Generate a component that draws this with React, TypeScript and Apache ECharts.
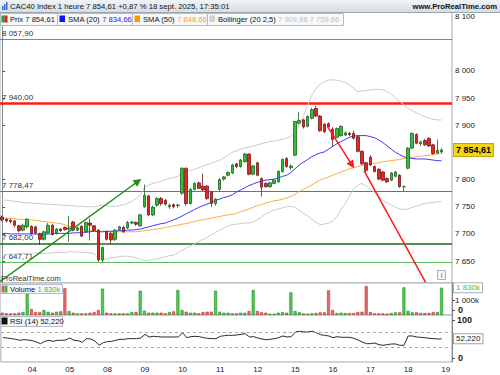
import React, { useEffect, useRef } from 'react';
import * as echarts from 'echarts';

const FONT = "'Liberation Sans', Arial, sans-serif";

// ---------- categories ----------
const DAYS = ['03', '04', '05', '08', '09', '10', '11', '12', '15', '16', '17', '18'];
const FIRST_SESSION_HOURS = ['11', '12', '13', '14', '15', '16', '17'];
const SESSION_HOURS = ['09', '10', '11', '12', '13', '14', '15', '16', '17'];
const NEXT_DAY = '19';
const EMPTY_SLOT_HOURS = ['09', '10'];

// ---------- candles ----------
const OPEN = [
  7731, 7727, 7725, 7724, 7715, 7707, 7713,
  7714, 7713, 7701, 7690, 7702, 7716, 7701, 7709, 7712,
  7709, 7722, 7707, 7714, 7704, 7720, 7715, 7707, 7652,
  7704, 7701, 7690, 7708, 7712, 7711, 7720, 7721, 7715,
  7750, 7770, 7735, 7753, 7765, 7762, 7750, 7754, 7752,
  7775, 7821, 7756, 7782, 7794, 7788, 7788, 7777, 7756,
  7782, 7801, 7808, 7812, 7829, 7824, 7833, 7847, 7810,
  7831, 7802, 7793, 7787, 7793, 7796, 7815, 7839, 7822,
  7845, 7904, 7910, 7898, 7913, 7931, 7917, 7902, 7903,
  7893, 7878, 7881, 7882, 7885, 7885, 7879, 7852, 7831,
  7841, 7824, 7819, 7814, 7802, 7799, 7806, 7808, 7787,
  7821, 7858, 7883, 7866, 7872, 7876, 7864, 7849, 7851,
];
const HIGH = [
  7734, 7729, 7728, 7726, 7717, 7719, 7729,
  7716, 7715, 7702, 7706, 7720, 7719, 7711, 7711, 7714,
  7733, 7724, 7713, 7716, 7723, 7728, 7716, 7709, 7677,
  7706, 7704, 7709, 7715, 7715, 7724, 7724, 7723, 7737,
  7791, 7772, 7752, 7768, 7768, 7764, 7756, 7756, 7756,
  7822, 7822, 7784, 7795, 7796, 7811, 7790, 7779, 7766,
  7803, 7807, 7815, 7829, 7831, 7838, 7849, 7848, 7827,
  7833, 7804, 7795, 7796, 7801, 7817, 7839, 7841, 7828,
  7908, 7925, 7912, 7918, 7932, 7936, 7919, 7904, 7905,
  7896, 7896, 7900, 7889, 7888, 7890, 7881, 7854, 7833,
  7845, 7826, 7821, 7816, 7804, 7814, 7816, 7810, 7789,
  7860, 7887, 7885, 7872, 7875, 7878, 7866, 7874, 7858,
];
const LOW = [
  7723, 7721, 7719, 7712, 7703, 7705, 7710,
  7699, 7699, 7680, 7688, 7700, 7697, 7699, 7704, 7706,
  7686, 7705, 7705, 7694, 7702, 7688, 7704, 7649, 7647.71,
  7688, 7682, 7687, 7706, 7702, 7709, 7718, 7715, 7713,
  7748, 7733, 7733, 7750, 7752, 7752, 7746, 7747, 7748,
  7772, 7752, 7754, 7780, 7782, 7779, 7763, 7750, 7752,
  7779, 7798, 7806, 7810, 7821, 7822, 7831, 7808, 7808,
  7806, 7769, 7785, 7785, 7791, 7794, 7813, 7822, 7818,
  7843, 7902, 7894, 7896, 7911, 7915, 7888, 7886, 7895,
  7861, 7876, 7879, 7880, 7880, 7874, 7850, 7827, 7814,
  7825, 7813, 7799, 7797, 7794, 7797, 7804, 7785, 7778.47,
  7819, 7856, 7865, 7862, 7862, 7860, 7846, 7847, 7848,
];
const CLOSE = [
  7726, 7724, 7723, 7716, 7706, 7716, 7727,
  7701, 7702, 7690, 7704, 7716, 7699, 7709, 7706, 7708,
  7711, 7707, 7711, 7696, 7721, 7716, 7707, 7652, 7675,
  7690, 7689, 7707, 7713, 7704, 7721, 7722, 7718, 7735,
  7771, 7735, 7749, 7765, 7756, 7755, 7753, 7750, 7753,
  7821, 7756, 7782, 7793, 7784, 7781, 7765, 7756, 7764,
  7800, 7805, 7813, 7827, 7824, 7836, 7847, 7810, 7825,
  7808, 7786, 7787, 7794, 7799, 7815, 7837, 7824, 7825,
  7907, 7909, 7897, 7916, 7929, 7917, 7890, 7888, 7897,
  7874, 7894, 7898, 7886, 7883, 7876, 7852, 7829, 7817,
  7827, 7815, 7801, 7799, 7796, 7812, 7814, 7787, 7787,
  7858, 7885, 7867, 7869, 7864, 7862, 7848, 7854, 7854.61,
];
const VOLUME_K = [
  156, 112, 112, 112, 156, 200, 1450,
  400, 200, 200, 335, 223, 156, 223, 245, 1790,
  268, 156, 112, 112, 112, 156, 200, 335, 1765,
  156, 112, 112, 112, 112, 112, 200, 200, 1630,
  290, 156, 156, 156, 156, 112, 200, 245, 1675,
  335, 223, 156, 156, 112, 200, 223, 223, 1630,
  223, 156, 156, 112, 112, 156, 156, 268, 1675,
  268, 180, 156, 90, 90, 156, 200, 156, 1520,
  268, 180, 112, 90, 112, 135, 180, 180, 1650,
  335, 135, 156, 135, 135, 135, 200, 223, 1940,
  200, 112, 112, 112, 90, 135, 180, 180, 1853,
  268, 180, 180, 135, 135, 135, 200, 200, 1830,
];

// ---------- indicators ----------
const SMA20 = [
  7701, 7701, 7700, 7700, 7700, 7700, 7700, 7700,
  7700, 7699, 7699, 7700, 7700, 7701, 7701, 7701,
  7701, 7702, 7702, 7703, 7703, 7704, 7705, 7704,
  7704, 7705, 7705, 7705, 7706, 7706, 7707, 7707,
  7708, 7709, 7711, 7713, 7715, 7717, 7719, 7720,
  7723, 7726, 7729, 7733, 7737, 7741, 7745, 7749,
  7752, 7755, 7758, 7762, 7764, 7767, 7769, 7772,
  7777, 7781, 7785, 7789, 7792, 7795, 7797, 7799,
  7800, 7801, 7803, 7806, 7808, 7813, 7820, 7827,
  7832, 7837, 7842, 7846, 7849, 7851, 7856, 7861,
  7866, 7870, 7874, 7878, 7880, 7881, 7881, 7881,
  7879, 7877, 7873, 7868, 7862, 7856, 7850, 7846,
  7842, 7840, 7839, 7838, 7838, 7838, 7837, 7836, 7835, 7834.66,
];
const SMA50 = [
  7729, 7729, 7728, 7728, 7727, 7727, 7726, 7726,
  7725, 7724, 7723, 7722, 7721, 7720, 7719, 7717,
  7714, 7713, 7711, 7710, 7708, 7707, 7706, 7705,
  7705, 7704, 7704, 7704, 7704, 7704, 7704, 7704,
  7704, 7705, 7706, 7707, 7708, 7709, 7710, 7712,
  7713, 7715, 7716, 7718, 7719, 7721, 7723, 7725,
  7726, 7728, 7729, 7731, 7732, 7734, 7735, 7736,
  7738, 7741, 7743, 7746, 7749, 7752, 7754, 7757,
  7759, 7761, 7762, 7764, 7766, 7769, 7773, 7778,
  7782, 7786, 7790, 7795, 7799, 7802, 7805, 7808,
  7811, 7814, 7817, 7820, 7822, 7824, 7826, 7828,
  7829, 7830, 7831, 7833, 7834, 7835, 7836, 7837,
  7839, 7840, 7841, 7842, 7843, 7844, 7845, 7846, 7847, 7848.66,
];
const BOLL_UP = [
  7763, 7762, 7761, 7760, 7759, 7758, 7757, 7757,
  7756, 7756, 7755, 7755, 7754, 7754, 7753, 7753,
  7752, 7752, 7751, 7751, 7750, 7750, 7750, 7752,
  7753, 7752, 7751, 7751, 7752, 7754, 7756, 7760,
  7765, 7772, 7785, 7790, 7793, 7795, 7797, 7800,
  7802, 7804, 7806, 7812, 7815, 7817, 7819, 7822,
  7825, 7828, 7830, 7833, 7836, 7840, 7845, 7850,
  7853, 7856, 7858, 7860, 7862, 7864, 7866, 7868,
  7870, 7871, 7873, 7874, 7876, 7880, 7888, 7900,
  7918, 7937, 7955, 7968, 7975, 7980, 7983, 7984,
  7983, 7981, 7979, 7974, 7968, 7962, 7963, 7964,
  7965, 7966, 7966, 7965, 7962, 7957, 7950, 7944,
  7938, 7931, 7927, 7923, 7919, 7916, 7913, 7911, 7910, 7909.66,
];
const BOLL_LOW = [
  7662, 7662, 7663, 7663, 7664, 7664, 7664, 7665,
  7665, 7664, 7664, 7665, 7665, 7666, 7666, 7666,
  7667, 7667, 7667, 7666, 7666, 7665, 7664, 7656,
  7652, 7654, 7656, 7657, 7658, 7659, 7659, 7658,
  7656, 7653, 7651, 7651, 7653, 7654, 7656, 7658,
  7660, 7661, 7665, 7670, 7674, 7678, 7682, 7686,
  7690, 7694, 7698, 7703, 7707, 7711, 7715, 7717,
  7718, 7719, 7720, 7720, 7722, 7726, 7731, 7737,
  7741, 7744, 7746, 7748, 7750, 7751, 7749, 7744,
  7738, 7733, 7727, 7722, 7717, 7718, 7720, 7723,
  7732, 7745, 7755, 7770, 7783, 7790, 7793, 7788,
  7782, 7776, 7768, 7762, 7757, 7753, 7749, 7746,
  7745, 7746, 7749, 7751, 7754, 7756, 7757, 7758, 7759, 7759.66,
];
const RSI14 = [
  55.2, 54.4, 52.7, 51.0, 48.4, 50.1, 49.2, 47.5,
  44.1, 39.8, 45.8, 48.4, 45.8, 48.4, 48.4, 49.2,
  54.4, 48.4, 47.5, 43.3, 52.7, 51.8, 46.7, 35.6,
  42.4, 45.0, 45.8, 48.4, 51.0, 51.0, 52.7, 52.7,
  52.7, 54.4, 63.8, 56.9, 58.6, 57.8, 56.9, 56.9,
  56.9, 56.9, 56.9, 68.0, 55.2, 57.8, 58.6, 57.8,
  55.2, 53.5, 52.7, 52.7, 58.6, 60.3, 61.2, 61.2,
  62.1, 63.8, 65.5, 56.9, 57.8, 54.4, 51.8, 50.1,
  51.0, 52.7, 55.2, 59.6, 56.9, 57.8, 69.8, 71.5,
  69.8, 69.8, 71.5, 68.0, 62.9, 61.2, 59.5, 55.2,
  57.8, 56.1, 56.1, 56.1, 53.5, 49.2, 44.1, 39.8,
  39.8, 41.5, 37.3, 35.6, 37.3, 39.0, 39.0, 35.6,
  35.6, 59.5, 59.5, 56.9, 56.1, 55.2, 53.5, 52.7, 51.8, 52.22,
];

// ---------- levels, ticks, legend values ----------
const LEVELS = [8057.9, 7940, 7778.47, 7682, 7647.71];
const PRICE_TICKS = [7650, 7700, 7750, 7800, 7900, 7950, 8000, 8100];
const VOLUME_TICKS = [1000];
const VOLUME_ZERO = 0;
const RSI_TOP = [100];
const RSI_ZERO = 0;
const RSI_BANDS = [70, 30];
const LAST_PRICE = 7854.61;
const CHANGE_PCT = 0.87;
const LAST_SMA20 = 7834.66;
const LAST_SMA50 = 7848.66;
const LAST_BOLL = [7909.66, 7759.66];
const LAST_VOLUME_K = 1830;
const LAST_RSI = 52.22;
const TITLE_DATE = '18 sept. 2025, 17:35:01';

// trend annotations, in data space: [candle index, price]
const GREEN_TREND = [[-0.5, 7612], [32.5, 7797]];
const RED_TREND_1 = [[77.8, 7897], [83.6, 7827]];
const RED_TREND_2 = [[86.5, 7816], [101.2, 7611]];

// ---------- helpers ----------
const fr = (v: number, d = 2) => {
  const s = Math.abs(v).toFixed(d);
  const [a, b] = s.split('.');
  const ai = a.replace(/\B(?=(\d{3})+(?!\d))/g, ' ');
  return (v < 0 && Number(s) !== 0 ? '-' : '') + (b ? ai + ',' + b : ai);
};

const categories: string[] = [];
DAYS.forEach((d, k) =>
  (k === 0 ? FIRST_SESSION_HOURS : SESSION_HOURS).forEach((h) => categories.push(`${d} ${h}h`))
);
EMPTY_SLOT_HOURS.forEach((h) => categories.push(`${NEXT_DAY} ${h}h`));
const N = categories.length;

const GRID_W = 452;
const PRICE_MIN = 7609.7;
const PRICE_MAX = 8108.5;
const VOL_MAX = 2145;
const RSI_MIN = -7.2;
const RSI_MAX = 113.3;
const VOL_TOP = 283;
const VOL_H = 32;
const RSI_TOP_PX = 315;
const RSI_H = 47;

const AXIS_COLOR = '#7f888f';
const BORDER = '#a3abb2';
const LEG_FS = 7.6;

function buildOption(): any {
  const candleData = OPEN.map((o, i) => [o, CLOSE[i], LOW[i], HIGH[i]]);
  const volData = VOLUME_K.map((v, i) => ({
    value: v,
    itemStyle:
      CLOSE[i] >= OPEN[i]
        ? { color: '#4fce4f', borderColor: '#1c8a1c', borderWidth: 0.6 }
        : { color: '#e46c6c', borderColor: '#b83434', borderWidth: 0.6 },
  }));

  const levelStyles = [
    { color: '#f25555', width: 1 },
    { color: '#ff1a1a', width: 2.5 },
    { color: '#3c963c', width: 1.2 },
    { color: '#1c6a1c', width: 1.6 },
    { color: '#5cbc5c', width: 1 },
  ];

  const xCat = (gridIndex: number, showLabels: boolean) => ({
    type: 'category',
    gridIndex,
    data: categories,
    boundaryGap: true,
    axisLine: { show: false },
    axisTick: { show: false },
    splitLine: { show: false },
    axisLabel: showLabels
      ? {
          show: true,
          interval: 0,
          fontSize: 8,
          fontFamily: FONT,
          color: '#222',
          margin: 3,
          formatter: (v: string) => (v.endsWith('09h') ? v.slice(0, 2) : ''),
        }
      : { show: false },
  });

  const yBase = (gridIndex: number, min: number, max: number) => ({
    type: 'value',
    gridIndex,
    position: 'right',
    min,
    max,
    splitLine: { show: false },
    axisLine: { show: false },
    axisTick: { show: false },
    axisLabel: { show: false },
  });

  const lbl = (extra: any) => ({
    show: true,
    showMinLabel: true,
    showMaxLabel: true,
    hideOverlap: false,
    fontFamily: FONT,
    ...extra,
  });

  const lineSeries = (name: string, data: number[], color: string) => ({
    name,
    type: 'line',
    xAxisIndex: 0,
    yAxisIndex: 0,
    data,
    symbol: 'none',
    silent: true,
    lineStyle: { color, width: 1 },
    z: 3,
  });

  const trend = (pts: number[][], color: string, arrow: boolean) => [
    { coord: pts[0], symbol: 'none' },
    { coord: pts[1], symbol: arrow ? 'triangle' : 'none', symbolSize: 8, lineStyle: { color, width: 1.5 } },
  ];

  const txt = (x: number, y: number, text: string, extra: any = {}) => ({
    type: 'text',
    z: 100,
    x,
    y,
    style: {
      text,
      fill: '#111',
      fontSize: 8,
      fontFamily: FONT,
      verticalAlign: 'middle',
      ...extra,
    },
  });
  const box = (x: number, y: number, w: number, h: number) => ({
    type: 'rect',
    z: 99,
    shape: { x: x + 0.5, y: y + 0.5, width: w, height: h },
    style: { fill: '#f7f8fa', stroke: '#b3bcc4', lineWidth: 1 },
  });
  const sq = (x: number, y: number, w: number, h: number, fill: string) => ({
    type: 'rect',
    z: 101,
    shape: { x, y, width: w, height: h },
    style: { fill },
  });
  const legendText = (x: number, y: number, key: string, val: string, valColor: string) =>
    txt(x, y, `{k|${key}} {v|${val}}`, {
      rich: {
        k: { fill: '#111', fontSize: LEG_FS, fontFamily: FONT },
        v: { fill: valColor, fontSize: LEG_FS, fontFamily: FONT },
      },
    });

  // zero tick labels of the lower panels, placed on each panel's own scale
  const volZeroY = VOL_TOP + VOL_H * (VOL_MAX - VOLUME_ZERO) / VOL_MAX;
  const rsiZeroY = RSI_TOP_PX + RSI_H * (RSI_MAX - RSI_ZERO) / (RSI_MAX - RSI_MIN);
  const zeroText = (y: number, v: number) => ({
    type: 'text',
    z: 200,
    x: GRID_W + 6,
    y,
    style: {
      text: `${fr(v, 0)}`,
      fill: '#222',
      fontSize: 9,
      fontWeight: 'bold',
      fontFamily: FONT,
      verticalAlign: 'middle',
    },
  });
  const zeroTick = (y: number) => ({
    type: 'line',
    z: 200,
    shape: { x1: GRID_W, y1: Math.round(y) - 0.5, x2: GRID_W + 3, y2: Math.round(y) - 0.5 },
    style: { stroke: '#555', lineWidth: 1 },
  });

  const graphic = [
    // header
    {
      type: 'rect',
      z: 98,
      shape: { x: 0, y: 0, width: 500, height: 12 },
      style: {
        fill: new echarts.graphic.LinearGradient(0, 0, 0, 1, [
          { offset: 0, color: '#f1f4f7' },
          { offset: 1, color: '#d6dde3' },
        ]),
      },
    },
    { type: 'line', z: 99, shape: { x1: 0, y1: 12.5, x2: 500, y2: 12.5 }, style: { stroke: '#9ba6af', lineWidth: 1 } },
    sq(2, 6, 1.5, 4, '#3b6fc9'),
    sq(4, 4, 1.5, 6, '#3b6fc9'),
    sq(6, 2, 1.5, 8, '#3b6fc9'),
    txt(10, 6.5, `CAC40 Index 1 heure ${fr(LAST_PRICE)} +${fr(CHANGE_PCT)} % ${TITLE_DATE}`, { fontSize: 7.7 }),
    txt(497, 6.5, 'www.ProRealTime.com', { align: 'right', fontWeight: 'bold', fontSize: 7.7 }),
    // legend row
    box(0, 13, 57, 12),
    box(57, 13, 75, 12),
    box(132, 13, 75, 12),
    box(207, 13, 136, 12),
    sq(1.5, 15.5, 3, 7, '#22a022'),
    sq(4.5, 15.5, 3, 7, '#d42020'),
    sq(59.5, 15.5, 5.5, 6.5, '#1010ff'),
    sq(134.5, 15.5, 5.5, 6.5, '#ff9900'),
    sq(209.5, 15.5, 5.5, 6.5, '#cfcfcf'),
    legendText(10, 19.5, 'Prix', fr(LAST_PRICE), '#222'),
    legendText(68, 19.5, 'SMA (20)', fr(LAST_SMA20), '#2424e6'),
    legendText(143, 19.5, 'SMA (50)', fr(LAST_SMA50), '#ff9a22'),
    legendText(218, 19.5, 'Bollinger (20 2,5)', `${fr(LAST_BOLL[0])} ${fr(LAST_BOLL[1])}`, '#bdbdbd'),
    // watermark + info icon
    txt(1, 278.5, 'ProRealTime.com', { fill: '#333', fontSize: 7.5 }),
    {
      type: 'rect',
      z: 99,
      shape: { x: 437.5, y: 270.5, width: 8, height: 9 },
      style: { fill: '#f4f5f6', stroke: '#a9b0b6', lineWidth: 1 },
    },
    txt(441.5, 275.5, 'i', { align: 'center', fill: '#667', fontSize: 7 }),
    // volume legend
    box(0, 284, 62, 9),
    sq(1.5, 285.5, 3, 7, '#e06060'),
    sq(4.5, 285.5, 3, 7, '#33bb33'),
    legendText(10, 289, 'Volume', `${fr(LAST_VOLUME_K, 0)}k`, '#3fbf3f'),
    // RSI legend
    box(0, 316, 62, 10),
    sq(1.5, 317.5, 6, 7, '#111'),
    txt(10, 321.5, `RSI (14) ${fr(LAST_RSI, 3)}`, { fontSize: LEG_FS }),
    // zero labels
    zeroText(volZeroY - 5, VOLUME_ZERO),
    zeroTick(volZeroY - 4),
    zeroText(rsiZeroY - 1, RSI_ZERO),
    zeroTick(rsiZeroY),
  ];

  return {
    animation: false,
    backgroundColor: '#ffffff',
    textStyle: { fontFamily: FONT },
    grid: [
      { left: 0, top: 12, width: GRID_W, height: 271, show: true, borderColor: BORDER, borderWidth: 1, backgroundColor: '#fff' },
      { left: 0, top: VOL_TOP, width: GRID_W, height: VOL_H, show: true, borderColor: BORDER, borderWidth: 1, backgroundColor: '#fff' },
      { left: 0, top: RSI_TOP_PX, width: GRID_W, height: RSI_H, show: true, borderColor: BORDER, borderWidth: 1, backgroundColor: '#fff' },
    ],
    xAxis: [
      xCat(0, false),
      xCat(1, false),
      xCat(2, true),
      { type: 'value', gridIndex: 0, min: -0.5, max: N - 0.5, show: false },
    ],
    yAxis: [
      {
        ...yBase(0, PRICE_MIN, PRICE_MAX),
        axisLine: { show: true, lineStyle: { color: AXIS_COLOR } },
        axisTick: { show: true, length: 3, customValues: PRICE_TICKS, lineStyle: { color: '#555' } },
        axisLabel: lbl({
          customValues: PRICE_TICKS,
          formatter: (v: number) => fr(v, 0),
          fontSize: 8,
          color: '#222',
          margin: 3,
        }),
      },
      {
        ...yBase(0, PRICE_MIN, PRICE_MAX),
        axisLabel: lbl({
          customValues: [LAST_PRICE],
          formatter: (v: number) => fr(v),
          fontSize: 9,
          fontWeight: 'bold',
          color: '#000',
          backgroundColor: '#f5d416',
          borderColor: '#c7a800',
          borderWidth: 1,
          padding: [2, 2, 1, 2],
          margin: 2,
        }),
      },
      {
        ...yBase(1, 0, VOL_MAX),
        axisLine: { show: true, lineStyle: { color: AXIS_COLOR } },
        axisTick: { show: true, length: 3, customValues: VOLUME_TICKS, lineStyle: { color: '#555' } },
        axisLabel: lbl({
          customValues: VOLUME_TICKS,
          formatter: (v: number) => `${fr(v, 0)}k`,
          fontSize: 8,
          color: '#222',
          margin: 3,
        }),
      },
      {
        ...yBase(1, 0, VOL_MAX),
        axisLabel: lbl({
          customValues: [LAST_VOLUME_K],
          formatter: (v: number) => `${fr(v, 0)}k`,
          fontSize: 8,
          color: '#3cc43c',
          backgroundColor: '#ffffff',
          borderColor: '#aab2b8',
          borderWidth: 1,
          padding: [1, 2, 0, 2],
          margin: 2,
        }),
      },
      {
        ...yBase(2, RSI_MIN, RSI_MAX),
        axisLine: { show: true, lineStyle: { color: AXIS_COLOR } },
        axisTick: { show: true, length: 3, customValues: RSI_TOP, lineStyle: { color: '#555' } },
        axisLabel: lbl({
          customValues: RSI_TOP,
          formatter: (v: number) => fr(v, 0),
          fontSize: 9,
          fontWeight: 'bold',
          color: '#222',
          margin: 5,
        }),
      },
      {
        ...yBase(2, RSI_MIN, RSI_MAX),
        axisLabel: lbl({
          customValues: [LAST_RSI],
          formatter: (v: number) => fr(v, 3),
          fontSize: 8,
          color: '#222',
          backgroundColor: '#ffffff',
          borderColor: '#9aa3aa',
          borderWidth: 1,
          padding: [1, 2, 0, 2],
          margin: 2,
        }),
      },
    ],
    series: [
      lineSeries('Bollinger haut', BOLL_UP, '#cbcbcb'),
      lineSeries('Bollinger bas', BOLL_LOW, '#cbcbcb'),
      {
        name: 'Prix',
        type: 'candlestick',
        xAxisIndex: 0,
        yAxisIndex: 0,
        data: candleData,
        barWidth: 3,
        z: 4,
        itemStyle: {
          color: '#2fc42f',
          color0: '#e62626',
          borderColor: '#245e24',
          borderColor0: '#6e1a1a',
          borderWidth: 0.8,
        },
        markLine: {
          silent: true,
          symbol: 'none',
          animation: false,
          z: 2,
          data: LEVELS.map((v, k) => ({
            yAxis: v,
            lineStyle: { type: 'solid', ...levelStyles[k] },
            label: {
              show: true,
              position: 'insideStartTop',
              formatter: fr(v),
              fontSize: 8,
              fontFamily: FONT,
              color: '#333',
              distance: [2, 2],
            },
          })),
        },
      },
      lineSeries('SMA (50)', SMA50, '#ffab40'),
      lineSeries('SMA (20)', SMA20, '#3a3aff'),
      {
        name: 'annotations',
        type: 'line',
        xAxisIndex: 3,
        yAxisIndex: 0,
        data: [],
        silent: true,
        markLine: {
          silent: true,
          animation: false,
          symbolSize: 8,
          label: { show: false },
          lineStyle: { type: 'solid', width: 1.5 },
          data: [
            trend(GREEN_TREND, '#1d8f1d', true),
            trend(RED_TREND_1, '#ff1a1a', true),
            trend(RED_TREND_2, '#ff1a1a', false),
          ],
        },
        z: 6,
      },
      {
        name: 'Volume',
        type: 'bar',
        xAxisIndex: 1,
        yAxisIndex: 2,
        data: volData,
        barWidth: 3,
        silent: true,
      },
      {
        name: 'RSI (14)',
        type: 'line',
        xAxisIndex: 2,
        yAxisIndex: 4,
        data: RSI14,
        symbol: 'none',
        silent: true,
        lineStyle: { color: '#2a2a2a', width: 1 },
        markLine: {
          silent: true,
          symbol: 'none',
          animation: false,
          label: { show: false },
          lineStyle: { type: [3, 3], color: '#a8a8a8', width: 1 },
          data: RSI_BANDS.map((v) => ({ yAxis: v })),
        },
      },
    ],
    graphic,
  };
}

export default function App() {
  const ref = useRef<HTMLDivElement>(null);
  useEffect(() => {
    if (!ref.current) return;
    const chart = echarts.init(ref.current, undefined, { renderer: 'svg', width: 500, height: 375 });
    chart.setOption(buildOption());
    return () => chart.dispose();
  }, []);
  return (
    <div
      ref={ref}
      style={{ position: 'fixed', left: 0, top: 0, width: 500, height: 375, background: '#fff' }}
    />
  );
}
